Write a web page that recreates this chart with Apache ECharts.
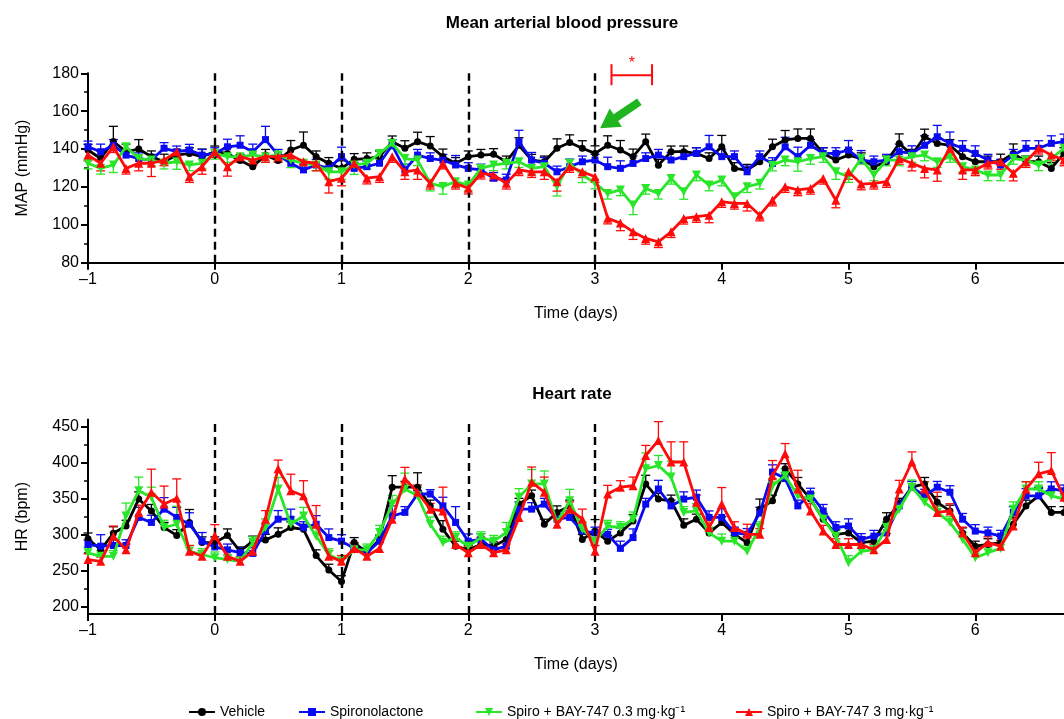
<!DOCTYPE html>
<html>
<head>
<meta charset="utf-8">
<title>Mean arterial blood pressure / Heart rate</title>
<script src="https://cdn.jsdelivr.net/npm/echarts@6/dist/echarts.min.js"></script>
<style>
  html, body { margin: 0; padding: 0; background: #fff; }
  #chart { width: 1064px; height: 719px; }
</style>
</head>
<body>
<div id="chart"></div>
<script>
// sampling times (days), 0.1 day steps
const days = [-1.0, -0.9, -0.8, -0.7, -0.6, -0.5, -0.4, -0.3, -0.2, -0.1,
  0.0, 0.1, 0.2, 0.3, 0.4, 0.5, 0.6, 0.7, 0.8, 0.9,
  1.0, 1.1, 1.2, 1.3, 1.4, 1.5, 1.6, 1.7, 1.8, 1.9,
  2.0, 2.1, 2.2, 2.3, 2.4, 2.5, 2.6, 2.7, 2.8, 2.9,
  3.0, 3.1, 3.2, 3.3, 3.4, 3.5, 3.6, 3.7, 3.8, 3.9,
  4.0, 4.1, 4.2, 4.3, 4.4, 4.5, 4.6, 4.7, 4.8, 4.9,
  5.0, 5.1, 5.2, 5.3, 5.4, 5.5, 5.6, 5.7, 5.8, 5.9,
  6.0, 6.1, 6.2, 6.3, 6.4, 6.5, 6.6, 6.7]

const dayTicks = [-1, 0, 1, 2, 3, 4, 5, 6]
const dayMarks = [0, 1, 2, 3]
const hrLabels = [200, 250, 300, 350, 400, 450]
const hrMinor = [225, 275, 325, 375, 425]

const groupNames = ['Vehicle', 'Spironolactone', 'Spiro + BAY-747 0.3 mg·kg⁻¹', 'Spiro + BAY-747 3 mg·kg⁻¹']

// MAP (mmHg)
const mapVehicle = [139.5, 135, 144, 138.6, 140, 136, 133.3, 136.8, 137.7, 136,
  138.6, 137.7, 134, 130.7, 136.8, 134, 139.5, 142, 136, 132.5,
  129.8, 134.6, 135, 136, 143.9, 140.4, 143.9, 141.6, 136, 132.5,
  136, 136.8, 137.2, 133.3, 142, 134.2, 133.3, 140.4, 143.5, 140.4,
  137.7, 142, 139.5, 136, 143.9, 131.5, 138.6, 138.6, 137.7, 135,
  141.2, 129.8, 128.9, 133.3, 141.2, 144.8, 145.6, 145.6, 137.7, 134.2,
  136.8, 135, 130.7, 133.3, 143, 136.8, 146.5, 143, 142, 136,
  133.3, 133.3, 133.3, 137.7, 133.3, 133.3, 129.8, 137.7]
const mapSpiro = [141.2, 138.6, 142, 136.8, 135, 134.2, 140.4, 138.6, 139.5, 136.8,
  137.7, 141.2, 142, 138.6, 145, 136.8, 132.5, 129, 131.6, 129.8,
  136, 129.8, 130.7, 132.5, 142, 129, 136.8, 135, 134.2, 131.6,
  129.8, 129, 124.6, 123.7, 143.9, 134.2, 132.5, 128, 130.7, 133.3,
  134.2, 130.7, 129.8, 132.4, 135, 136.8, 134.2, 136, 137.7, 141.2,
  136, 136, 128, 136, 132.4, 141.2, 136, 142, 137.7, 137.7,
  139.5, 134.2, 133.3, 134.2, 138.6, 137.7, 142, 146.5, 143, 140.4,
  137.7, 134.2, 131.6, 136.8, 140.4, 140.4, 143, 143.9]
const mapLow = [132.5, 129.8, 131.6, 141.2, 135, 134.2, 132.5, 133.3, 131.6, 132.5,
  137.7, 136, 136, 136.8, 136, 136.8, 134.2, 132.5, 131.6, 128,
  128, 131.6, 132.5, 137.7, 143, 135, 134.2, 121.9, 120.2, 122.8,
  121, 129.8, 131.6, 132.5, 133.3, 129.8, 130.7, 120.2, 132.5, 126.3,
  122, 116.6, 118.4, 110.4, 119.2, 116.6, 124.5, 117.5, 126.3, 121,
  123.6, 114.8, 120.1, 121.9, 131.5, 134.2, 133.3, 135, 136, 128,
  125.4, 135, 126.3, 134.2, 134.2, 136, 136.8, 133.3, 136, 130.7,
  129, 126.3, 126.3, 135, 134.2, 131.6, 135, 140.4]
const mapHigh = [136.8, 132.5, 141.2, 129.8, 132.5, 132.5, 134.2, 138.6, 125.4, 130.7,
  138.6, 130.7, 136, 134.2, 136, 136, 136.8, 133.3, 132.5, 122.8,
  124.6, 132.5, 124.6, 125.4, 136, 128, 129, 121.9, 132.5, 121.9,
  119.3, 127.2, 126.3, 121.9, 129, 128, 128, 122.8, 130.7, 128,
  125.4, 103.5, 100.9, 96.3, 92.8, 91, 96.3, 103.4, 104.3, 105.1,
  112.2, 111.3, 111.3, 105.1, 113, 120.1, 118.4, 119.2, 124.5, 113,
  128, 121.5, 121.9, 122.8, 135, 132.5, 129.8, 129, 140.4, 129,
  129, 132.5, 133.3, 127.2, 133.3, 140.4, 136.8, 134.2]

// MAP SEM
const mapVehicleErr = [3, 4, 8, 4, 5, 3, 4, 3, 3, 4, 3, 3, 3, 3, 3, 3, 5, 7, 3, 3,
  4, 3, 3, 3, 3, 4, 5, 5, 4, 3, 3, 3, 3, 3, 4, 3, 3, 5, 4, 4,
  4, 5, 5, 4, 4, 3, 3, 3, 3, 3, 6, 3, 3, 3, 4, 5, 5, 5, 3, 3,
  3, 3, 3, 3, 5, 3, 4, 3, 3, 3, 3, 3, 4, 5, 3, 3, 3, 3]
const mapSpiroErr = [3, 4, 3, 3, 3, 3, 3, 3, 3, 3, 3, 4, 5, 4, 7, 3, 3, 3, 3, 3,
  5, 3, 3, 3, 3, 3, 3, 3, 3, 5, 3, 3, 3, 3, 6, 4, 3, 3, 4, 3,
  3, 5, 4, 4, 3, 3, 4, 3, 3, 6, 4, 3, 3, 3, 3, 5, 5, 3, 3, 3,
  5, 5, 3, 3, 4, 4, 5, 6, 6, 4, 4, 3, 3, 3, 4, 4, 4, 4]
const mapLowErr = [3, 3, 4, 3, 3, 3, 3, 4, 3, 3, 3, 3, 3, 3, 3, 3, 4, 3, 3, 4,
  4, 5, 3, 3, 3, 3, 3, 4, 4, 3, 3, 3, 3, 3, 3, 3, 3, 5, 3, 4,
  3, 3, 3, 5, 3, 3, 3, 4, 3, 3, 3, 3, 3, 3, 3, 3, 5, 3, 3, 4,
  3, 3, 3, 3, 3, 3, 3, 3, 3, 3, 3, 3, 3, 3, 3, 3, 3, 3]
const mapHighErr = [3, 4, 3, 3, 4, 7, 3, 3, 3, 4, 3, 5, 3, 3, 3, 3, 3, 3, 4, 6,
  4, 3, 3, 3, 3, 4, 5, 3, 3, 3, 3, 3, 3, 3, 3, 3, 4, 5, 3, 3,
  3, 3, 4, 4, 3, 3, 3, 3, 3, 4, 3, 3, 4, 3, 3, 3, 3, 3, 3, 4,
  4, 3, 3, 3, 3, 4, 5, 6, 3, 5, 3, 3, 4, 4, 3, 3, 3, 3]

// HR (bpm)
const hrVehicle = [294.4, 279, 302, 312, 349.5, 333, 310, 299, 317, 289,
  289, 299, 277, 291, 292.5, 300.5, 310, 307.5, 271, 251,
  235, 289, 275, 293.5, 366, 366, 366, 340, 307.5, 284,
  279, 286.4, 284, 293.5, 342.5, 354, 314.5, 331, 340, 293.5,
  305, 291, 302.5, 319, 370.5, 349.5, 347, 313, 321.5, 302.5,
  317, 300.5, 289, 335.5, 347, 391.6, 370.5, 349.5, 321.5, 300.5,
  302.5, 289, 291, 321.5, 342.5, 366, 370.5, 345, 333, 302.5,
  284, 286.4, 289, 314.5, 340, 354, 331, 331]
const hrSpiro = [286.4, 284, 285, 285, 324, 317, 335.5, 324, 314.5, 291,
  283, 279, 275, 274, 305, 321.5, 321.5, 310, 314.5, 296,
  291, 281, 275, 291, 326, 331, 356.5, 356.5, 340, 317,
  291, 293.5, 279, 284, 335.5, 335.5, 342.5, 321.5, 324, 305,
  302.5, 300.5, 281, 296, 342.5, 363.5, 340, 349.5, 352, 324,
  324, 302.5, 300.5, 330, 387, 378, 340, 356.5, 333, 310,
  312, 293.5, 298, 302.5, 340, 366, 354, 366, 359, 321.5,
  305, 302.5, 298, 331, 354, 354, 363.5, 361]
const hrLow = [274.8, 270, 270, 326, 361, 352, 310, 314.5, 277, 272.5,
  268, 265.4, 263, 289, 310, 363.5, 314.5, 326, 298, 272.5,
  263, 279, 279, 303, 342.5, 363.5, 354, 314.5, 289, 296,
  284, 296, 291, 303, 352, 370.5, 370.5, 317, 347, 307.5,
  291, 312, 310, 321.5, 391.6, 396, 380, 331, 333, 302.5,
  291, 291, 277, 310, 368, 382, 354, 349.5, 321.5, 298,
  261, 277, 279, 310, 335.5, 366, 345, 331, 317, 293.5,
  268, 275, 281, 335.5, 363.5, 363.5, 354, 349.5]
const hrHigh = [265.4, 263, 298, 279, 331, 359, 342.5, 350.5, 277, 270,
  299, 270, 263, 277, 321.5, 391.6, 361, 354, 314.5, 270,
  263, 281, 270, 281, 321.5, 377.5, 359, 335.5, 333, 286.4,
  275, 286.4, 275, 279, 324, 373, 359, 314.5, 335.5, 321.5,
  277, 356.5, 366, 368, 410, 431, 401, 401, 345, 310,
  342.5, 310, 300.5, 300.5, 382, 412.6, 363.5, 333, 305, 286.4,
  286.4, 286.4, 279, 293.5, 363.5, 401, 363.5, 331, 333, 302.5,
  275, 289, 284, 312, 363.5, 384.6, 389, 352]

// HR SEM
const hrVehicleErr = [8, 6, 9, 8, 10, 9, 7, 8, 18, 8, 8, 9, 6, 7, 8, 9, 8, 7, 8, 8,
  8, 7, 6, 6, 16, 8, 20, 8, 12, 7, 6, 7, 6, 7, 8, 8, 7, 9, 8, 7,
  16, 8, 7, 9, 12, 8, 8, 9, 7, 7, 8, 7, 8, 14, 8, 7, 9, 8, 8, 7,
  7, 8, 7, 9, 8, 8, 9, 8, 8, 7, 7, 8, 9, 10, 8, 12, 8, 8]
const hrSpiroErr = [6, 16, 8, 8, 14, 10, 16, 14, 16, 12, 8, 8, 7, 8, 10, 12, 14, 8, 12, 12,
  9, 7, 6, 6, 14, 8, 5, 6, 12, 22, 10, 8, 8, 7, 10, 9, 8, 8, 9, 8,
  8, 7, 10, 12, 8, 12, 8, 10, 10, 9, 12, 8, 8, 8, 10, 8, 8, 8, 9, 8,
  10, 8, 8, 8, 8, 8, 9, 8, 9, 8, 9, 8, 8, 8, 10, 10, 10, 8]
const hrLowErr = [8, 8, 8, 18, 19, 14, 10, 25, 8, 8, 8, 7, 6, 8, 12, 16, 10, 12, 12, 8,
  8, 8, 8, 10, 12, 22, 12, 10, 9, 8, 8, 8, 8, 14, 12, 20, 18, 12, 16, 10,
  8, 8, 8, 10, 22, 14, 22, 8, 10, 8, 10, 8, 8, 8, 10, 10, 10, 8, 10, 8,
  10, 8, 8, 8, 10, 10, 10, 8, 8, 10, 8, 8, 8, 10, 10, 10, 10, 8]
const hrHighErr = [8, 6, 14, 8, 10, 32, 25, 27, 8, 8, 15, 8, 6, 8, 12, 12, 23, 21, 26, 8,
  8, 8, 8, 8, 10, 16, 10, 8, 33, 8, 8, 10, 8, 8, 10, 21, 21, 10, 10, 14,
  8, 12, 9, 12, 14, 26, 28, 28, 10, 10, 23, 8, 14, 8, 21, 14, 26, 10, 8, 8,
  8, 8, 8, 8, 12, 14, 10, 28, 10, 8, 8, 8, 8, 10, 10, 16, 25, 10]

// annotations on the MAP panel (data units)
const arrowTail = [3.35, 165]
const arrowTip = [3.04, 151]
const sigSpan = [3.13, 3.45]
const sigLevel = 179

const styles = [
  { color: '#000000', symbol: 'circle', size: 7, rotate: 0 },
  { color: '#0a0af0', symbol: 'rect', size: 7, rotate: 0 },
  { color: '#2ae62a', symbol: 'triangle', size: 9, rotate: 180 },
  { color: '#ff0a0a', symbol: 'triangle', size: 9, rotate: 0 }
]

const font = "'Liberation Sans', Arial, sans-serif"

function lineSeries(i, axis, values) {
  const s = styles[i]
  return {
    type: 'line',
    name: groupNames[i],
    xAxisIndex: axis,
    yAxisIndex: axis,
    z: 3 + i,
    data: days.map((d, k) => [d, values[k]]),
    symbol: s.symbol,
    symbolSize: s.size,
    symbolRotate: s.rotate,
    showAllSymbol: true,
    lineStyle: { color: s.color, width: 2.8 },
    itemStyle: { color: s.color },
    animation: false
  }
}

function errorSeries(i, axis, values, errs, dir) {
  const s = styles[i]
  return {
    type: 'custom',
    name: groupNames[i],
    xAxisIndex: axis,
    yAxisIndex: axis,
    z: 2,
    silent: true,
    animation: false,
    data: days.map((d, k) => [d, values[k], errs[k]]),
    renderItem(params, api) {
      const x = api.value(0), y = api.value(1), e = api.value(2)
      const p0 = api.coord([x, y])
      const p1 = api.coord([x, y + dir * e])
      const st = { stroke: s.color, lineWidth: 1.3 }
      return {
        type: 'group',
        children: [
          { type: 'line', shape: { x1: p0[0], y1: p0[1], x2: p1[0], y2: p1[1] }, style: st },
          { type: 'line', shape: { x1: p1[0] - 4.5, y1: p1[1], x2: p1[0] + 4.5, y2: p1[1] }, style: st }
        ]
      }
    }
  }
}

function dayLines() {
  return {
    silent: true,
    symbol: 'none',
    label: { show: false },
    lineStyle: { color: '#000', type: [8, 5], width: 2.4 },
    data: dayMarks.map(d => ({ xAxis: d }))
  }
}

function xAxisFor(grid) {
  return {
    type: 'value', gridIndex: grid, min: -1, max: 6.7,
    name: 'Time (days)', nameLocation: 'middle', nameGap: 43,
    nameTextStyle: { fontSize: 16, color: '#000', fontFamily: font },
    axisLine: { onZero: false, lineStyle: { color: '#000', width: 2 } },
    axisTick: { length: 7, customValues: dayTicks, lineStyle: { width: 2, color: '#000' } },
    axisLabel: {
      customValues: dayTicks, fontSize: 16, color: '#000', margin: 9, fontFamily: font,
      formatter: v => (v < 0 ? '–' + Math.abs(v) : String(v))
    },
    splitLine: { show: false }
  }
}

const series = []
const mapSets = [[mapVehicle, mapVehicleErr, 1], [mapSpiro, mapSpiroErr, 1], [mapLow, mapLowErr, -1], [mapHigh, mapHighErr, -1]]
const hrSets = [[hrVehicle, hrVehicleErr], [hrSpiro, hrSpiroErr], [hrLow, hrLowErr], [hrHigh, hrHighErr]]
mapSets.forEach((m, i) => series.push(lineSeries(i, 0, m[0])))
hrSets.forEach((h, i) => series.push(lineSeries(i, 1, h[0])))
series[0].markLine = dayLines()
series[4].markLine = dayLines()
mapSets.forEach((m, i) => series.push(errorSeries(i, 0, m[0], m[1], m[2])))
hrSets.forEach((h, i) => series.push(errorSeries(i, 1, h[0], h[1], 1)))

// green arrow and significance bracket
series.push({
  type: 'custom', xAxisIndex: 0, yAxisIndex: 0, z: 10, silent: true, animation: false,
  data: [[arrowTail[0], arrowTail[1], arrowTip[0], arrowTip[1]]],
  renderItem(params, api) {
    const a = api.coord([api.value(0), api.value(1)])
    const b = api.coord([api.value(2), api.value(3)])
    const dx = b[0] - a[0], dy = b[1] - a[1]
    const len = Math.sqrt(dx * dx + dy * dy)
    const ux = dx / len, uy = dy / len, nx = -uy, ny = ux
    const head = 19, hw = 11, sw = 4
    const bx = b[0] - ux * head, by = b[1] - uy * head
    const pts = [
      [a[0] + nx * sw, a[1] + ny * sw], [bx + nx * sw, by + ny * sw], [bx + nx * hw, by + ny * hw],
      [b[0], b[1]], [bx - nx * hw, by - ny * hw], [bx - nx * sw, by - ny * sw], [a[0] - nx * sw, a[1] - ny * sw]
    ]
    return { type: 'polygon', shape: { points: pts }, style: { fill: '#1fb51f' } }
  }
})
series.push({
  type: 'custom', xAxisIndex: 0, yAxisIndex: 0, z: 10, silent: true, animation: false,
  data: [[sigSpan[0], sigSpan[1], sigLevel]],
  renderItem(params, api) {
    const l = api.coord([api.value(0), api.value(2)])
    const r = api.coord([api.value(1), api.value(2)])
    const st = { stroke: '#ff0a0a', lineWidth: 2 }
    return {
      type: 'group',
      children: [
        { type: 'line', shape: { x1: l[0], y1: l[1], x2: r[0], y2: r[1] }, style: st },
        { type: 'line', shape: { x1: l[0], y1: l[1] - 11, x2: l[0], y2: l[1] + 10 }, style: st },
        { type: 'line', shape: { x1: r[0], y1: r[1] - 11, x2: r[0], y2: r[1] + 10 }, style: st },
        { type: 'text', style: { text: '*', x: (l[0] + r[0]) / 2, y: l[1] - 4, fill: '#ff0a0a', font: '16px ' + font, align: 'center', verticalAlign: 'bottom' } }
      ]
    }
  }
})

const legendLeft = [183, 293, 470, 730]

const chart = echarts.init(document.getElementById('chart'))
chart.setOption({
  backgroundColor: '#fff',
  textStyle: { fontFamily: font },
  animation: false,
  title: [
    { text: 'Mean arterial blood pressure', left: 557, top: 10, textAlign: 'center', textStyle: { fontSize: 17, fontWeight: 'bold', color: '#000', fontFamily: font } },
    { text: 'Heart rate', left: 567, top: 381, textAlign: 'center', textStyle: { fontSize: 17, fontWeight: 'bold', color: '#000', fontFamily: font } }
  ],
  legend: groupNames.map((n, i) => ({
    data: [n], left: legendLeft[i], top: 700, itemWidth: 26, itemHeight: 10, itemGap: 0,
    textStyle: { fontSize: 14, color: '#000', fontFamily: font }
  })),
  grid: [
    { left: 88, top: 73.3, height: 189.4, right: 0 },
    { left: 88, top: 419.5, height: 194.4, right: 0 }
  ],
  xAxis: [xAxisFor(0), xAxisFor(1)],
  yAxis: [
    {
      type: 'value', gridIndex: 0, min: 80, max: 180, interval: 20,
      name: 'MAP (mmHg)', nameLocation: 'middle', nameGap: 57,
      nameTextStyle: { fontSize: 16, color: '#000', fontFamily: font },
      axisLine: { show: true, onZero: false, lineStyle: { color: '#000', width: 2 } },
      axisTick: { show: true, length: 7, lineStyle: { width: 2, color: '#000' } },
      minorTick: { show: true, splitNumber: 2, length: 4, lineStyle: { width: 1.5, color: '#000' } },
      axisLabel: { fontSize: 16, color: '#000', margin: 9, fontFamily: font },
      splitLine: { show: false }
    },
    {
      type: 'value', gridIndex: 1, min: 190, max: 460, position: 'left',
      name: 'HR (bpm)', nameLocation: 'middle', nameGap: 57,
      nameTextStyle: { fontSize: 16, color: '#000', fontFamily: font },
      axisLine: { show: true, onZero: false, lineStyle: { color: '#000', width: 2 } },
      axisTick: { show: true, length: 7, customValues: hrLabels, lineStyle: { width: 2, color: '#000' } },
      axisLabel: { customValues: hrLabels, fontSize: 16, color: '#000', margin: 9, fontFamily: font },
      splitLine: { show: false }
    },
    {
      type: 'value', gridIndex: 1, min: 190, max: 460, position: 'left',
      axisLine: { show: false, onZero: false },
      axisTick: { show: true, length: 4, customValues: hrMinor, lineStyle: { width: 1.5, color: '#000' } },
      axisLabel: { show: false },
      splitLine: { show: false }
    }
  ],
  series: series
})
</script>
</body>
</html>
